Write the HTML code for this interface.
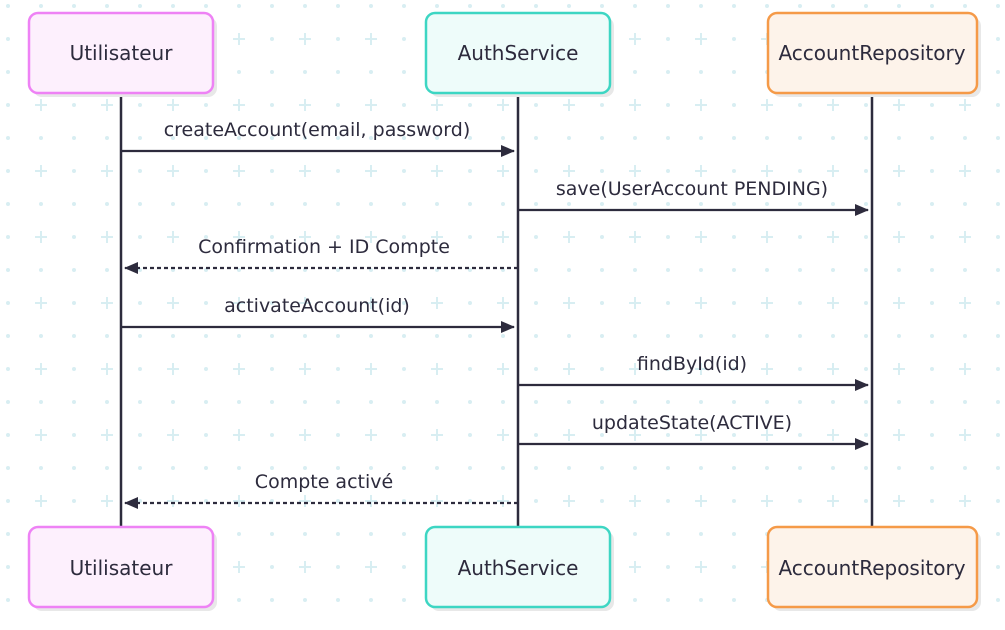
<!DOCTYPE html>
<html><head><meta charset="utf-8"><style>
html,body{margin:0;padding:0;background:#fff}
svg text{font-family:"DejaVu Sans","Liberation Sans",sans-serif;font-size:19px;fill:#2d2b3d}
svg text.b{font-size:20px}
</style></head><body>
<svg width="1005" height="625" xmlns="http://www.w3.org/2000/svg">
<defs>
<pattern id="g" x="8" y="6" width="66" height="66" patternUnits="userSpaceOnUse">
<circle cx="0" cy="0" r="2" fill="#d8eef2"/><circle cx="66" cy="0" r="2" fill="#d8eef2"/>
<circle cx="0" cy="66" r="2" fill="#d8eef2"/><circle cx="66" cy="66" r="2" fill="#d8eef2"/>
<circle cx="33" cy="0" r="2" fill="#d8eef2"/><circle cx="0" cy="33" r="2" fill="#d8eef2"/>
<circle cx="33" cy="66" r="2" fill="#d8eef2"/><circle cx="66" cy="33" r="2" fill="#d8eef2"/>
<path d="M27 33h12M33 27v12" stroke="#d8eef2" stroke-width="2"/>
</pattern>
<marker id="a" markerWidth="14" markerHeight="12" refX="13" refY="6" orient="auto" markerUnits="userSpaceOnUse"><path d="M0 0L14 6L0 12z" fill="#2d2b3d"/></marker>
</defs>
<rect width="1005" height="625" fill="url(#g)"/>
<g stroke="#2d2b3d" stroke-width="2.5">
<line x1="121" y1="93" x2="121" y2="527"/><line x1="518" y1="93" x2="518" y2="527"/><line x1="872" y1="93" x2="872" y2="527"/>
</g>
<g fill="#e8e8e8">
<rect x="33" y="17" width="184" height="80" rx="9"/><rect x="430" y="17" width="184" height="80" rx="9"/><rect x="772" y="17" width="209" height="80" rx="9"/>
<rect x="33" y="531" width="184" height="80" rx="9"/><rect x="430" y="531" width="184" height="80" rx="9"/><rect x="772" y="531" width="209" height="80" rx="9"/>
</g>
<g stroke-width="2.5">
<rect x="29" y="13" width="184" height="80" rx="9" fill="#fdf0fd" stroke="#ee82f5"/>
<rect x="426" y="13" width="184" height="80" rx="9" fill="#eefcfa" stroke="#3dd6c3"/>
<rect x="768" y="13" width="209" height="80" rx="9" fill="#fdf3ea" stroke="#f59a48"/>
<rect x="29" y="527" width="184" height="80" rx="9" fill="#fdf0fd" stroke="#ee82f5"/>
<rect x="426" y="527" width="184" height="80" rx="9" fill="#eefcfa" stroke="#3dd6c3"/>
<rect x="768" y="527" width="209" height="80" rx="9" fill="#fdf3ea" stroke="#f59a48"/>
</g>
<g text-anchor="middle">
<text class="b" x="121" y="60">Utilisateur</text><text class="b" x="518" y="60">AuthService</text><text class="b" x="872" y="60">AccountRepository</text>
<text class="b" x="121" y="575">Utilisateur</text><text class="b" x="518" y="575">AuthService</text><text class="b" x="872" y="575">AccountRepository</text>
<text x="317" y="136">createAccount(email, password)</text>
<text x="692" y="195">save(UserAccount PENDING)</text>
<text x="324" y="253">Confirmation + ID Compte</text>
<text x="317" y="312">activateAccount(id)</text>
<text x="692" y="370">findById(id)</text>
<text x="692" y="429">updateState(ACTIVE)</text>
<text x="324" y="488">Compte activé</text>
</g>
<g stroke="#2d2b3d" stroke-width="2.2" marker-end="url(#a)">
<line x1="121" y1="151" x2="514" y2="151"/>
<line x1="518" y1="210" x2="868" y2="210"/>
<line x1="518" y1="268" x2="125" y2="268" stroke-dasharray="4 3"/>
<line x1="121" y1="327" x2="514" y2="327"/>
<line x1="518" y1="385" x2="868" y2="385"/>
<line x1="518" y1="444" x2="868" y2="444"/>
<line x1="518" y1="503" x2="125" y2="503" stroke-dasharray="4 3"/>
</g>
</svg>
</body></html>
